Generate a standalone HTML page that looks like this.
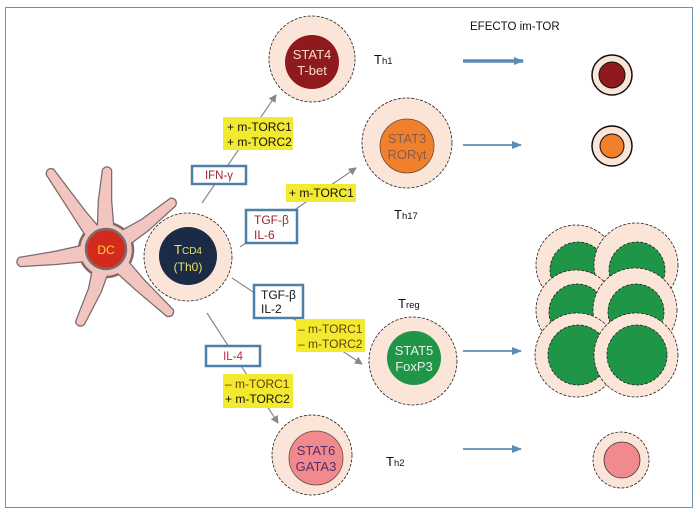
<!DOCTYPE html>
<html><head><meta charset="utf-8"><style>
html,body{margin:0;padding:0;background:#fff;}
svg{display:block;font-family:"Liberation Sans",sans-serif;}
</style></head><body>
<svg width="700" height="517" viewBox="0 0 700 517" xmlns="http://www.w3.org/2000/svg">
<defs>
<marker id="ga" markerWidth="8" markerHeight="8" refX="7" refY="4" orient="auto" markerUnits="userSpaceOnUse"><path d="M0,0 L8,4 L0,8 Z" fill="#888"/></marker>
<marker id="ba" markerWidth="10" markerHeight="10" refX="9" refY="5" orient="auto" markerUnits="userSpaceOnUse"><path d="M0,1 L10,5 L0,9 Z" fill="#5b8bb5"/></marker>
<g id="arms">
<path d="M113.2,244.6 L84.8,211.4 L53.2,169.6 Q47,168 46.8,174.4 L75.2,218.6 L98.8,255.4 Z"/>
<path d="M115,250 L111,200 L111,170 Q107,165 103,170 L99,200 L97,250 Z"/>
<path d="M110.9,257.6 L148.2,230 L175.2,205.4 Q177.2,199.3 170.8,198.6 L141.8,220 L101.1,242.4 Z"/>
<path d="M107.4,258.9 L55.9,263.9 L20.6,266 Q15,262.8 19.4,258 L54.1,252.1 L104.6,241.1 Z"/>
<path d="M114.7,252.4 L100.8,291.6 L83.9,324.1 Q78.7,327.8 76.1,321.9 L89.2,288.4 L97.3,247.6 Z"/>
<path d="M112.5,243.7 L144.3,280.8 L172.9,310.2 Q173.5,316.6 167.1,315.8 L135.7,289.2 L99.5,256.3 Z"/>
</g>
</defs>
<rect x="5.5" y="7.5" width="687" height="500" fill="#fff" stroke="#6b93b0" stroke-width="1"/>

<!-- DC -->
<use href="#arms" fill="#f3c5c0" stroke="#7a6a6a" stroke-width="2.5" stroke-linejoin="round"/>
<circle cx="106" cy="250" r="27" fill="#f3c5c0" stroke="#7a6a6a" stroke-width="2.5"/>
<use href="#arms" fill="#f3c5c0"/>
<circle cx="106" cy="250" r="24" fill="#f3c5c0"/>
<circle cx="106" cy="249" r="20" fill="#d42a1c" stroke="#7a6a6a" stroke-width="2.5"/>
<text x="106" y="254" font-size="12" fill="#f5d23a" text-anchor="middle">DC</text>

<!-- TCD4 -->
<circle cx="188" cy="257" r="44" fill="#fbe4d8" stroke="#222" stroke-width="0.8" stroke-dasharray="3,1.5"/>
<circle cx="188" cy="256" r="29" fill="#1b2b45"/>
<text x="188" y="254" font-size="13" fill="#e8e25a" text-anchor="middle">T<tspan font-size="10">CD4</tspan></text>
<text x="188" y="271" font-size="12" fill="#e8e25a" text-anchor="middle">(Th0)</text>

<!-- gray arrows -->
<g stroke="#8a8a8a" stroke-width="1.2">
<line x1="202" y1="203" x2="276" y2="95" marker-end="url(#ga)"/>
<line x1="240" y1="247" x2="356" y2="168" marker-end="url(#ga)"/>
<line x1="232" y1="278" x2="362" y2="364" marker-end="url(#ga)"/>
<line x1="207" y1="313" x2="278" y2="423" marker-end="url(#ga)"/>
</g>

<!-- labels -->
<rect x="223" y="117" width="70" height="33" fill="#f2ea2e"/>
<text x="227" y="131" font-size="12" fill="#111">+ m-TORC1</text>
<text x="227" y="146" font-size="12" fill="#111">+ m-TORC2</text>
<rect x="192" y="166" width="54" height="18" fill="#fff" stroke="#4f7fa5" stroke-width="2.5"/>
<text x="219" y="179" font-size="11.5" fill="#9b2335" text-anchor="middle">IFN-γ</text>
<rect x="286" y="184" width="70" height="18" fill="#f2ea2e"/>
<text x="289" y="197" font-size="12" fill="#111">+ m-TORC1</text>
<rect x="246" y="210" width="51" height="33" fill="#fff" stroke="#4f7fa5" stroke-width="2.5"/>
<text x="254" y="224" font-size="12" fill="#9b2335">TGF-β</text>
<text x="254" y="239" font-size="12" fill="#9b2335">IL-6</text>
<rect x="254" y="285" width="49" height="33" fill="#fff" stroke="#4f7fa5" stroke-width="2.5"/>
<text x="261" y="299" font-size="12" fill="#111">TGF-β</text>
<text x="261" y="313" font-size="12" fill="#111">IL-2</text>
<rect x="296" y="319" width="69" height="33" fill="#f2ea2e"/>
<text x="298" y="333" font-size="12" fill="#6a3a10">– m-TORC1</text>
<text x="298" y="348" font-size="12" fill="#6a3a10">– m-TORC2</text>
<rect x="206" y="346" width="54" height="20" fill="#fff" stroke="#4f7fa5" stroke-width="2.5"/>
<text x="233" y="360" font-size="11.5" fill="#c0283a" text-anchor="middle">IL-4</text>
<rect x="223" y="374" width="70" height="34" fill="#f2ea2e"/>
<text x="225" y="388" font-size="12" fill="#6a3a10">– m-TORC1</text>
<text x="225" y="403" font-size="12" fill="#111">+ m-TORC2</text>

<!-- Th cells -->
<g stroke="#222" stroke-width="0.8" stroke-dasharray="3,1.5">
<circle cx="312" cy="59" r="43" fill="#fbe4d8"/>
<circle cx="407" cy="143" r="45" fill="#fbe4d8"/>
<circle cx="413" cy="361" r="44" fill="#fbe4d8"/>
<circle cx="312" cy="455" r="40" fill="#fbe4d8"/>
</g>
<circle cx="312" cy="62" r="27" fill="#8e1a1e"/>
<text x="312" y="59" font-size="13" fill="#f6dcd0" text-anchor="middle">STAT4</text>
<text x="312" y="75" font-size="13" fill="#f6dcd0" text-anchor="middle">T-bet</text>
<circle cx="407" cy="146" r="27" fill="#f0802a" stroke="#6a4a3a" stroke-width="0.8"/>
<text x="407" y="143" font-size="13" fill="#8a5a50" text-anchor="middle">STAT3</text>
<text x="407" y="159" font-size="13" fill="#8a5a50" text-anchor="middle">RORγt</text>
<circle cx="414" cy="358" r="27" fill="#1f9548"/>
<text x="414" y="355" font-size="13" fill="#e6f2e6" text-anchor="middle">STAT5</text>
<text x="414" y="371" font-size="13" fill="#e6f2e6" text-anchor="middle">FoxP3</text>
<circle cx="316" cy="458" r="27" fill="#f08a8e" stroke="#6a4a4a" stroke-width="0.8"/>
<text x="316" y="455" font-size="13" fill="#5a2a6a" text-anchor="middle">STAT6</text>
<text x="316" y="471" font-size="13" fill="#5a2a6a" text-anchor="middle">GATA3</text>

<text x="374" y="64" font-size="13" fill="#111">T<tspan font-size="9.5">h1</tspan></text>
<text x="394" y="219" font-size="13" fill="#111">T<tspan font-size="9.5">h17</tspan></text>
<text x="398" y="308" font-size="13" fill="#111">T<tspan font-size="9.5">reg</tspan></text>
<text x="386" y="466" font-size="13" fill="#111">T<tspan font-size="9.5">h2</tspan></text>

<text x="470" y="30" font-size="11.5" fill="#111">EFECTO im-TOR</text>

<!-- blue arrows -->
<line x1="463" y1="61" x2="523" y2="61" stroke="#5b8bb5" stroke-width="3.5" marker-end="url(#ba)"/>
<line x1="463" y1="145" x2="521" y2="145" stroke="#5b8bb5" stroke-width="1.8" marker-end="url(#ba)"/>
<line x1="463" y1="351" x2="521" y2="351" stroke="#5b8bb5" stroke-width="1.8" marker-end="url(#ba)"/>
<line x1="463" y1="449" x2="521" y2="449" stroke="#5b8bb5" stroke-width="1.8" marker-end="url(#ba)"/>

<!-- right cells -->
<circle cx="612" cy="75" r="20" fill="#fbe4d8" stroke="#111" stroke-width="1.5"/>
<circle cx="612" cy="75" r="13" fill="#8e1a1e" stroke="#111" stroke-width="1"/>
<circle cx="612" cy="146" r="20" fill="#fbe4d8" stroke="#111" stroke-width="1.5"/>
<circle cx="612" cy="146" r="12" fill="#f0802a" stroke="#111" stroke-width="1"/>
<circle cx="621" cy="460" r="28" fill="#fbe4d8" stroke="#222" stroke-width="0.8" stroke-dasharray="3,1.5"/>
<circle cx="622" cy="460" r="18" fill="#f08a8e" stroke="#333" stroke-width="0.8"/>

<g stroke="#222" stroke-width="0.8" stroke-dasharray="3,1.5">
<circle cx="576" cy="265" r="40" fill="#fbe4d8"/><circle cx="578" cy="270" r="28" fill="#1f9548"/>
<circle cx="636" cy="265" r="42" fill="#fbe4d8"/><circle cx="637" cy="270" r="28" fill="#1f9548"/>
<circle cx="576" cy="310" r="40" fill="#fbe4d8"/><circle cx="577" cy="312" r="28" fill="#1f9548"/>
<circle cx="635" cy="310" r="42" fill="#fbe4d8"/><circle cx="636" cy="312" r="28" fill="#1f9548"/>
<circle cx="577" cy="355" r="42" fill="#fbe4d8"/><circle cx="578" cy="355" r="30" fill="#1f9548"/>
<circle cx="636" cy="355" r="42" fill="#fbe4d8"/><circle cx="637" cy="355" r="30" fill="#1f9548"/>
</g>
</svg>
</body></html>
